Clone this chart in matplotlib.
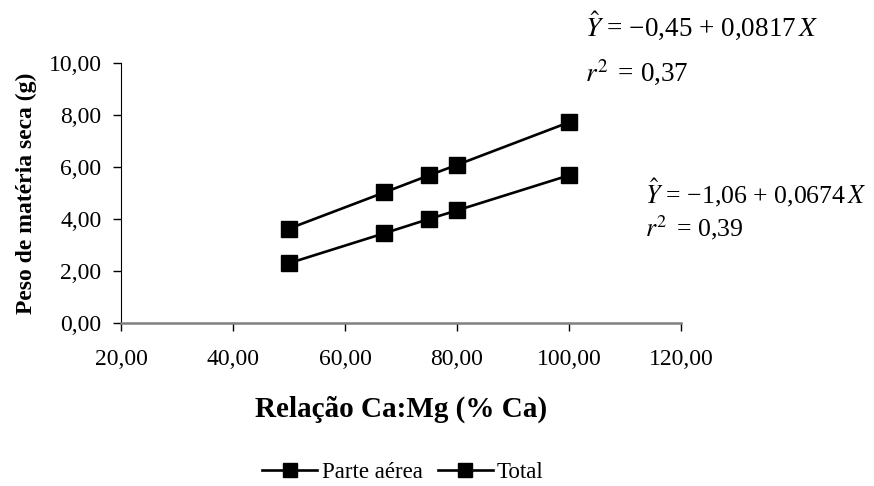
import matplotlib
matplotlib.use("Agg")
import matplotlib.pyplot as plt
from matplotlib.ticker import FixedLocator, FuncFormatter

# Dry matter weight vs. Ca:Mg ratio (% Ca)
ca_pct = [50, 67, 75, 80, 100]
parte_aerea = [2.30, 3.45, 4.00, 4.33, 5.68]
total = [3.63, 5.02, 5.68, 6.08, 7.72]
x_ticks = [20, 40, 60, 80, 100, 120]
y_ticks = [0, 2, 4, 6, 8, 10]

plt.rcParams["font.family"] = ["Liberation Serif", "DejaVu Serif"]
plt.rcParams["mathtext.fontset"] = "stix"

W, H = 874, 486
fig = plt.figure(figsize=(W / 100, H / 100), dpi=100)
ax = fig.add_axes([121 / W, 1 - 323 / H, 560 / W, 260 / H])

ax.plot(ca_pct, parte_aerea, color="black", lw=1.9, marker="s", ms=11,
        label="Parte aérea")
ax.plot(ca_pct, total, color="black", lw=1.9, marker="s", ms=11,
        label="Total")

ax.set_xlim(20, 120)
ax.set_ylim(0, 10)
ax.xaxis.set_major_locator(FixedLocator(x_ticks))
ax.yaxis.set_major_locator(FixedLocator(y_ticks))
fmt = FuncFormatter(lambda v, p: f"{v:.2f}".replace(".", ","))
ax.xaxis.set_major_formatter(fmt)
ax.yaxis.set_major_formatter(fmt)
ax.tick_params(axis="both", direction="out", length=6, labelsize=17,
               width=1)
ax.tick_params(axis="x", color="black", pad=13)
ax.tick_params(axis="y", color="black", pad=8)

for s in ("top", "right"):
    ax.spines[s].set_visible(False)
ax.spines["bottom"].set_color("#808080")
ax.spines["bottom"].set_linewidth(1.8)
ax.spines["left"].set_color("black")

ax.set_xlabel("Relação Ca:Mg (% Ca)", fontsize=21, fontweight="bold")
ax.xaxis.label.set_va("baseline")
ax.xaxis.set_label_coords(0.5, (323 - 417) / 260)
ax.set_ylabel("Peso de matéria seca (g)", fontsize=17, fontweight="bold")
ax.yaxis.label.set_va("center")
ax.yaxis.set_label_coords((26 - 121) / 560, 0.5)

# Regression equations
fig.text(585 / W, 1 - 37 / H, "$\\hat{Y}$ = −0,45 + 0,0817$\\,X$",
         fontsize=19.5, va="baseline", ha="left")
fig.text(585 / W, 1 - 82 / H, "$r^{2}\\,$ = 0,37",
         fontsize=19.5, va="baseline", ha="left")
fig.text(645 / W, 1 - 203 / H, "$\\hat{Y}$ = −1,06 + 0,0674$\\,X$",
         fontsize=18.5, va="baseline", ha="left")
fig.text(645 / W, 1 - 236 / H, "$r^{2}\\,$ = 0,39",
         fontsize=18.5, va="baseline", ha="left")

fig.legend(loc="center", bbox_to_anchor=(403 / W, 1 - 472 / H),
           ncol=2, frameon=False, fontsize=16.5, handlelength=2.4,
           handletextpad=0.2, columnspacing=0.65, markerscale=0.9)

fig.savefig("out.png", dpi=100)
